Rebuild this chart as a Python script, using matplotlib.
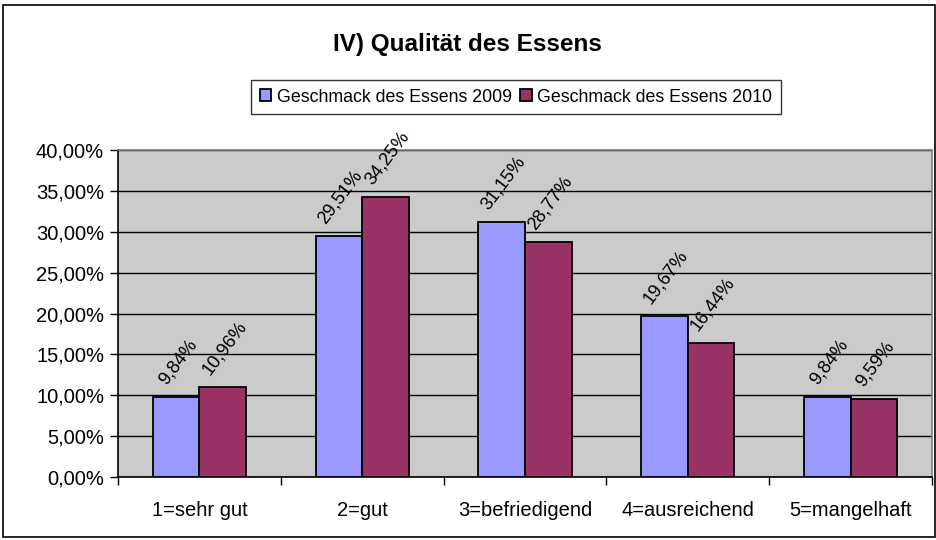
import matplotlib
matplotlib.use("Agg")
import matplotlib.pyplot as plt
import numpy as np
from matplotlib.patches import Rectangle

categories = ["1=sehr gut", "2=gut", "3=befriedigend", "4=ausreichend", "5=mangelhaft"]
values_2009 = [9.84, 29.51, 31.15, 19.67, 9.84]
values_2010 = [10.96, 34.25, 28.77, 16.44, 9.59]
series_names = ["Geschmack des Essens 2009", "Geschmack des Essens 2010"]
title = "IV) Qualität des Essens"

plt.rcParams['font.family'] = ['Liberation Sans', 'DejaVu Sans']

W, H = 937, 540
fig = plt.figure(figsize=(W / 100, H / 100), dpi=100)
fig.patch.set_facecolor("white")
# outer border
fig.add_artist(Rectangle((3 / W, 1 - 537 / H), (932 / W), (532 / H), transform=fig.transFigure,
                         fill=False, edgecolor="black", linewidth=1.2))

left, right, top, bottom = 118, 932, 150, 477
ax = fig.add_axes([left / W, 1 - bottom / H, (right - left) / W, (bottom - top) / H])
ax.set_facecolor("#CBCBCB")

x = np.arange(len(categories))
bw = 1 / 3.5
b1 = ax.bar(x - bw / 2, values_2009, bw, color="#9999FF", edgecolor="black", linewidth=1.3,
            label=series_names[0], zorder=3)
b2 = ax.bar(x + bw / 2, values_2010, bw, color="#993366", edgecolor="black", linewidth=1.3,
            label=series_names[1], zorder=3)

for bars, vals in ((b1, values_2009), (b2, values_2010)):
    for rect, v in zip(bars, vals):
        ax.annotate(f"{v:.2f}%".replace(".", ","),
                    (rect.get_x() + rect.get_width() / 2 + 0.01, v),
                    xytext=(0, 9), textcoords="offset pixels",
                    ha="center", va="bottom", rotation=53, fontsize=13.2, zorder=4,
                    annotation_clip=False)

ax.set_xlim(-0.5, len(categories) - 0.5)
ax.set_ylim(0, 40)
yt = np.arange(0, 41, 5)
ax.set_yticks(yt)
ax.set_yticklabels([f"{v:.2f}%".replace(".", ",") for v in yt], fontsize=14.5)
ax.yaxis.grid(True, color="black", linewidth=1.0, zorder=1)
ax.set_axisbelow(True)

ax.set_xticks(x)
ax.set_xticklabels(categories, fontsize=14.5)
ax.tick_params(axis="x", length=0, pad=17)
ax.set_xticks(np.arange(-0.5, len(categories), 1), minor=True)
ax.tick_params(axis="x", which="minor", length=6, color="black", width=1)
ax.tick_params(axis="y", length=6, color="black", width=1, pad=4)

for s in ("top", "right"):
    ax.spines[s].set_color("#808080")
    ax.spines[s].set_linewidth(1.2)
for s in ("left", "bottom"):
    ax.spines[s].set_color("black")
    ax.spines[s].set_linewidth(1.2)

fig.text(467 / W, 1 - 45 / H, title, ha="center", va="center", fontsize=17.5, fontweight="bold")

leg = fig.legend(handles=[b1, b2], labels=series_names, loc="center",
                 bbox_to_anchor=(516 / W, 1 - 97 / H), ncol=2, fontsize=12.8,
                 frameon=True, fancybox=False, edgecolor="black", handlelength=0.65,
                 handleheight=0.65, handletextpad=0.3, columnspacing=0.5, borderpad=0.5,
                 borderaxespad=0)
leg.get_frame().set_linewidth(1.0)

fig.savefig("out.png", dpi=100)
